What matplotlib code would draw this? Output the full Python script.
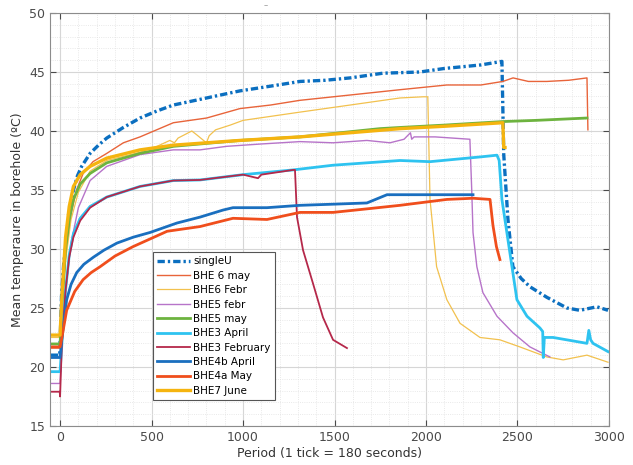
import matplotlib.pyplot as plt
from matplotlib.ticker import MultipleLocator

# Mean borehole temperature per test
su_x = [-50, -2, 0, 8, 20, 36, 55, 73, 95, 118, 164, 210, 255, 346, 437, 530, 619, 801, 983, 1150,
        1311, 1450, 1585, 1765, 1967, 2100, 2202, 2300, 2415, 2425, 2448, 2475, 2520, 2568, 2661,
        2770, 2841, 2934, 2995]
su_y = [21.0, 21.0, 22.0, 26.0, 28.8, 30.8, 33.3, 35.0, 36.2, 37.0, 38.1, 38.8, 39.4, 40.3, 41.1,
        41.7, 42.2, 42.8, 43.4, 43.8, 44.2, 44.3, 44.5, 44.9, 45.0, 45.3, 45.45, 45.6, 45.9, 38.0,
        32.5, 28.5, 27.5, 26.8, 25.9, 25.0, 24.8, 25.1, 24.8]

b6may_x = [-50, 0, 10, 30, 60, 90, 126, 180, 255, 346, 437, 619, 801, 983, 1150, 1311, 1585, 1858,
           2114, 2300, 2420, 2476, 2560, 2660, 2780, 2880, 2885]
b6may_y = [21.6, 21.6, 25.0, 29.5, 33.0, 35.0, 36.4, 37.4, 38.1, 39.0, 39.5, 40.7, 41.1, 41.9, 42.2,
           42.6, 43.05, 43.5, 43.9, 43.9, 44.2, 44.5, 44.2, 44.2, 44.3, 44.5, 40.1]

b6feb_x = [-50, 0, 10, 30, 60, 100, 164, 255, 437, 530, 600, 625, 645, 720, 745, 800, 815, 850, 930,
           1000, 1311, 1585, 1858, 1985, 2010, 2022, 2040, 2058, 2114, 2186, 2295, 2404, 2513, 2660,
           2750, 2880, 2995]
b6feb_y = [22.5, 22.5, 25.0, 29.0, 32.5, 34.8, 36.6, 37.5, 38.2, 38.7, 39.2, 39.0, 39.4, 40.0, 39.7,
           39.0, 39.6, 40.1, 40.5, 40.9, 41.6, 42.2, 42.8, 42.9, 42.9, 34.2, 31.4, 28.5, 25.7, 23.7,
           22.5, 22.3, 21.7, 20.85, 20.6, 21.0, 20.4]

b5feb_x = [-50, 0, 10, 30, 60, 100, 164, 255, 437, 619, 765, 910, 1100, 1311, 1492, 1677, 1803, 1880,
           1915, 1922, 1935, 2050, 2240, 2250, 2257, 2278, 2311, 2388, 2475, 2568, 2677]
b5feb_y = [18.6, 18.6, 22.0, 26.5, 30.5, 33.5, 35.8, 37.0, 38.0, 38.4, 38.4, 38.7, 38.9, 39.1, 39.0,
           39.2, 39.0, 39.3, 39.85, 39.3, 39.5, 39.5, 39.3, 35.0, 31.4, 28.5, 26.3, 24.3, 22.9, 21.7, 20.85]

b5may_x = [-50, 0, 10, 30, 50, 73, 110, 164, 255, 437, 619, 983, 1311, 1748, 1858, 2100, 2420, 2600, 2880]
b5may_y = [21.95, 21.95, 25.0, 30.0, 32.5, 34.2, 35.5, 36.4, 37.3, 38.1, 38.7, 39.2, 39.5, 40.2, 40.3,
           40.5, 40.8, 40.9, 41.1]

b3apr_x = [-50, 0, 10, 30, 50, 73, 110, 164, 255, 437, 619, 765, 1000, 1273, 1492, 1858, 2022, 2295,
           2388, 2400, 2415, 2442, 2470, 2497, 2552, 2623, 2638, 2641, 2647, 2695, 2880, 2890, 2900,
           2913, 2995]
b3apr_y = [19.6, 19.6, 22.0, 26.5, 29.5, 31.3, 32.6, 33.6, 34.4, 35.3, 35.8, 35.85, 36.3, 36.7, 37.1,
           37.5, 37.4, 37.8, 37.95, 37.5, 34.2, 31.4, 28.5, 25.7, 24.3, 23.3, 23.0, 20.8, 22.5, 22.5,
           22.0, 23.1, 22.3, 22.0, 21.3]

b3feb_x = [-50, -2, 0, 10, 30, 50, 73, 110, 164, 255, 437, 619, 765, 1000, 1082, 1100, 1273, 1284,
           1295, 1328, 1382, 1437, 1492, 1568]
b3feb_y = [17.9, 17.9, 17.5, 22.0, 26.5, 29.3, 31.0, 32.4, 33.5, 34.4, 35.3, 35.8, 35.85, 36.3, 36.0,
           36.3, 36.7, 36.7, 32.7, 29.9, 27.1, 24.2, 22.3, 21.6]

b4b_x = [-50, 0, 10, 36, 60, 91, 130, 182, 240, 311, 400, 492, 639, 765, 891, 945, 1131, 1311, 1500,
         1677, 1787, 1967, 2257]
b4b_y = [20.8, 20.8, 22.5, 25.7, 27.0, 28.0, 28.7, 29.3, 29.9, 30.5, 31.0, 31.4, 32.2, 32.7, 33.3,
         33.5, 33.5, 33.7, 33.8, 33.9, 34.6, 34.6, 34.6]

b4a_x = [-50, 0, 10, 36, 80, 126, 170, 219, 300, 399, 585, 765, 945, 1131, 1311, 1492, 1677, 1858,
         2114, 2257, 2350, 2366, 2385, 2404]
b4a_y = [21.7, 21.7, 22.5, 24.8, 26.4, 27.4, 28.0, 28.5, 29.4, 30.2, 31.5, 31.9, 32.6, 32.5, 33.1,
         33.1, 33.4, 33.7, 34.2, 34.3, 34.2, 32.0, 30.2, 29.1]

b7_x = [-50, 0, 10, 30, 50, 73, 110, 164, 255, 437, 619, 983, 1311, 1858, 2100, 2420, 2425, 2432]
b7_y = [22.7, 22.7, 26.0, 31.0, 33.6, 35.3, 36.3, 37.0, 37.7, 38.4, 38.8, 39.2, 39.5, 40.2, 40.4,
        40.7, 38.6, 38.6]

fig = plt.figure(figsize=(6.33, 4.65), dpi=100)
ax = fig.add_axes([0.079, 0.084, 0.883, 0.888])

ax.plot(su_x, su_y, color='#0B6FC0', lw=2.4, linestyle=(0, (2.2, 0.9, 0.7, 0.9)), label='singleU')
ax.plot(b6may_x, b6may_y, color='#E8643A', lw=1.0, label='BHE 6 may')
ax.plot(b6feb_x, b6feb_y, color='#F2C14E', lw=0.9, label='BHE6 Febr')
ax.plot(b5feb_x, b5feb_y, color='#B774C9', lw=1.0, label='BHE5 febr')
ax.plot(b5may_x, b5may_y, color='#6DB33F', lw=2.0, label='BHE5 may')
ax.plot(b3apr_x, b3apr_y, color='#2EC3F0', lw=2.0, label='BHE3 April')
ax.plot(b3feb_x, b3feb_y, color='#B5284A', lw=1.3, label='BHE3 February')
ax.plot(b4b_x, b4b_y, color='#1A6FBF', lw=2.0, label='BHE4b April')
ax.plot(b4a_x, b4a_y, color='#F04E1C', lw=2.0, label='BHE4a May')
ax.plot(b7_x, b7_y, color='#F5B40F', lw=2.4, label='BHE7 June')

ax.set_xlim(-55, 3000)
ax.set_ylim(15, 50)
ax.xaxis.set_major_locator(MultipleLocator(500))
ax.xaxis.set_minor_locator(MultipleLocator(100))
ax.yaxis.set_major_locator(MultipleLocator(5))
ax.yaxis.set_minor_locator(MultipleLocator(1))
ax.grid(True, which='major', color='#d6d6d6', lw=0.8)
ax.grid(True, which='minor', color='#e2e2e2', lw=0.6, linestyle=':')
ax.set_axisbelow(True)
ax.tick_params(which='major', direction='in', top=True, right=True, length=4,
               labelsize=9, colors='#4a4a4a')
ax.tick_params(which='minor', length=0)
for s in ax.spines.values():
    s.set_color('#8c8c8c')
    s.set_linewidth(0.8)

ax.set_xlabel('Period (1 tick = 180 seconds)', fontsize=9, color='#333333', labelpad=2)
ax.set_ylabel('Mean temperaure in borehole (\u00baC)', fontsize=9, color='#333333', labelpad=4)
fig.text(0.419, 0.982, '\u2013', fontsize=6, color='#999999', ha='center')

leg = ax.legend(loc='lower left', bbox_to_anchor=(0.184, 0.063), fontsize=7.5, frameon=True,
                fancybox=False, edgecolor='#555555', framealpha=1, handlelength=3.2,
                handletextpad=0.3, labelspacing=0.42, borderpad=0.4, borderaxespad=0)
leg.get_frame().set_linewidth(0.8)

plt.savefig('out.png', dpi=100)
